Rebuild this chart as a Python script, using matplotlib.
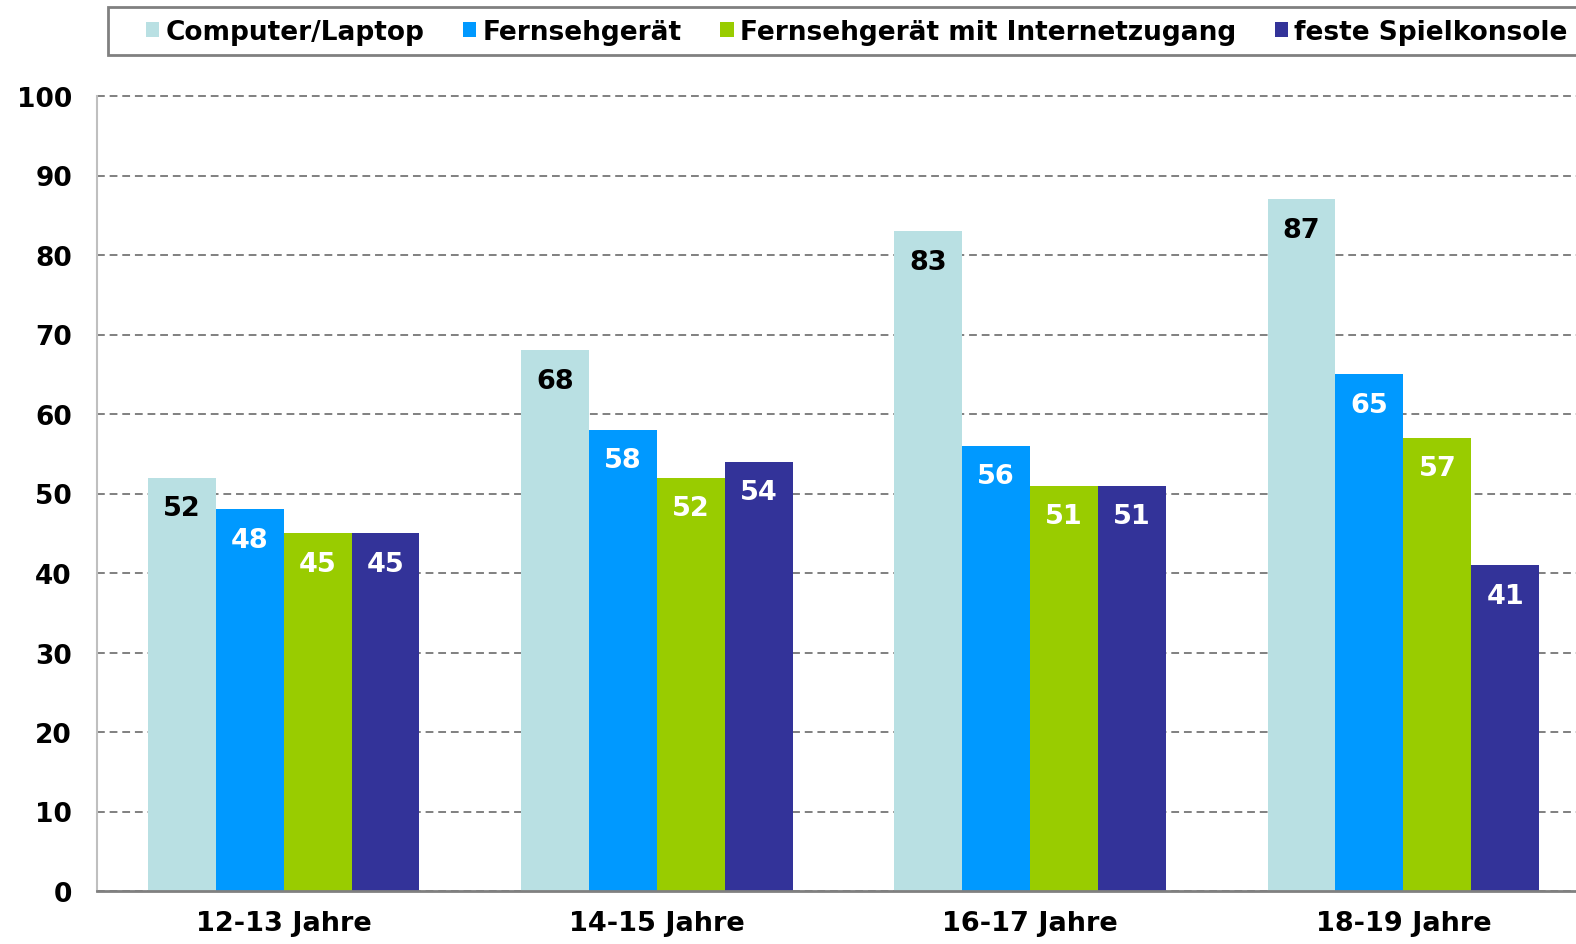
import matplotlib
matplotlib.use("Agg")
import matplotlib.pyplot as plt
from matplotlib.patches import Rectangle
import numpy as np

categories = ["12-13 Jahre", "14-15 Jahre", "16-17 Jahre", "18-19 Jahre"]
series_names = ["Computer/Laptop", "Fernsehgerät", "Fernsehgerät mit Internetzugang", "feste Spielkonsole"]
computer = [52, 68, 83, 87]
fernseher = [48, 58, 56, 65]
fernseher_internet = [45, 52, 51, 57]
spielkonsole = [45, 54, 51, 41]
yticks = [0, 10, 20, 30, 40, 50, 60, 70, 80, 90, 100]

series = [computer, fernseher, fernseher_internet, spielkonsole]
colors = ["#B9E0E3", "#0099FF", "#99CC00", "#333399"]
label_colors = ["black", "white", "white", "white"]

plt.rcParams['font.family'] = ['DejaVu Sans']
plt.rcParams['font.weight'] = 'bold'

W, H = 1576, 945
fig = plt.figure(figsize=(W/100, H/100), dpi=100)
ax = fig.add_axes([97/W, 53/H, 1493/W, 795/H])

x = np.arange(len(categories))
w = 0.182
handles = []
for i, (vals, c, lc) in enumerate(zip(series, colors, label_colors)):
    pos = x + (i - 1.5) * w
    b = ax.bar(pos, vals, width=w, color=c, zorder=3, label=series_names[i])
    handles.append(b)
    for p, v in zip(pos, vals):
        ax.annotate(str(v), (p, v), xytext=(0, -22), textcoords='offset points',
                    ha='center', va='center', color=lc, fontsize=19.5,
                    fontweight='bold', zorder=4)

ax.set_xlim(-0.5, 3.5)
ax.set_ylim(0, 100)
ax.set_yticks(yticks)
ax.set_yticklabels([str(t) for t in yticks], fontsize=19, fontweight='bold')
ax.set_xticks(x)
ax.set_xticklabels(categories, fontsize=19.5, fontweight='bold')
ax.tick_params(axis='both', length=0)
ax.tick_params(axis='y', pad=18)
ax.tick_params(axis='x', pad=14)
ax.yaxis.grid(True, linestyle=(0, (4, 2.5)), color='#808080', linewidth=1.4, zorder=1)
for gl in ax.get_ygridlines():
    gl.set_clip_on(False)
ax.set_axisbelow(True)
for s in ['top', 'right']:
    ax.spines[s].set_visible(False)
ax.spines['left'].set_color('#BFBFBF')
ax.spines['left'].set_linewidth(1.5)
ax.spines['bottom'].set_color('#808080')
ax.spines['bottom'].set_linewidth(2)
ax.spines['bottom'].set_zorder(5)

# legend frame
fig.patches.append(Rectangle((108/W, 1 - 56/H), (1700-108)/W, 48/H,
                             transform=fig.transFigure, facecolor='white',
                             edgecolor='#808080', linewidth=2, zorder=0))

leg = fig.legend(handles=handles, labels=series_names, loc='center left',
                 bbox_to_anchor=(141/W, 1 - 33/H), ncol=4,
                 prop={'size': 19, 'weight': 'bold'}, frameon=False,
                 handlelength=0.5, handleheight=0.5, handletextpad=0.25,
                 columnspacing=1.45, borderpad=0.2, borderaxespad=0)

fig.savefig("out.png", dpi=100)
